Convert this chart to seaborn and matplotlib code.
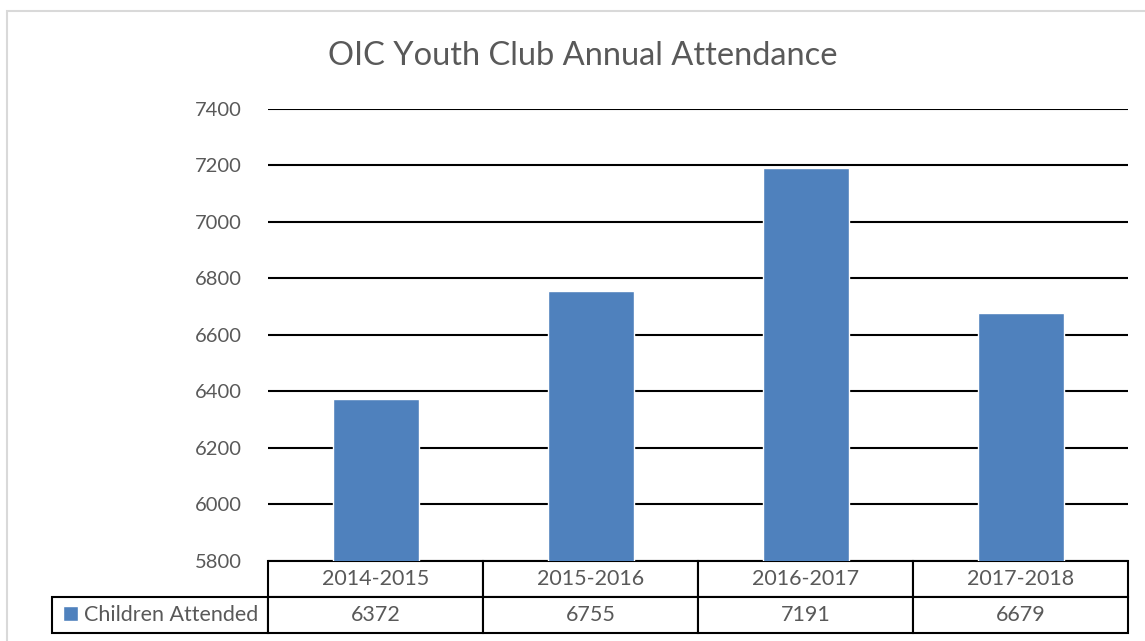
# OIC Youth Club annual attendance - excel style bar chart with data table
import pandas as pd
import matplotlib.pyplot as plt
import matplotlib.patches as mpatches
from matplotlib.table import Table
import seaborn as sns

years = ['2014-2015', '2015-2016', '2016-2017', '2017-2018']
attended = [6372, 6755, 7191, 6679]
series_name = 'Children Attended'
yticks = [5800, 6000, 6200, 6400, 6600, 6800, 7000, 7200, 7400]

df = pd.DataFrame({'Year': years, series_name: attended})

sns.set_theme(style='white')
plt.rcParams['font.family'] = ['Lato', 'DejaVu Sans']
txt = '#595959'
blue = '#4F81BD'

fig = plt.figure(figsize=(11.45, 6.41), dpi=100)
ax = fig.add_axes([268/1145, 1 - 561/641, 860/1145, 452/641])

sns.barplot(data=df, x='Year', y=series_name, color=blue, width=0.4,
            saturation=1, ax=ax, label=series_name)

ax.set_ylim(5800, 7400)
ax.set_yticks(yticks)
ax.set_yticklabels([str(v) for v in yticks], color=txt, fontsize=14.5)
ax.yaxis.grid(True, color='black', linewidth=1.5)
ax.set_axisbelow(True)
ax.tick_params(axis='y', length=0, pad=19)
ax.set_xticks([])
ax.set_xlabel('')
ax.set_ylabel('')
ax.set_xlim(-0.5, len(years) - 0.5)
sns.despine(ax=ax, left=True, bottom=True, top=True, right=True)

# data table under the plot (bbox covers the value columns, label column hangs left)
rl = 0.25 * 216 / 215
tab = Table(ax, bbox=[0, -72/452, 1, 72/452])
tab.auto_set_font_size(False)
for i, y in enumerate(years):
    tab.add_cell(0, i, width=0.25, height=0.5, text=y, loc='center')
    tab.add_cell(1, i, width=0.25, height=0.5, text=str(attended[i]), loc='center')
tab.add_cell(0, -1, width=rl, height=0.5, text='', loc='left')
tab.add_cell(1, -1, width=rl, height=0.5, text='', loc='left')
tab[0, -1].visible_edges = ''
for (r, c), cell in tab.get_celld().items():
    cell.set_edgecolor('black')
    cell.set_linewidth(1.5)
    cell.get_text().set_color(txt)
    cell.get_text().set_fontsize(15.5)
ax.add_table(tab)

# legend key in the row label cell
leg = ax.legend(loc='center left', bbox_to_anchor=(-rl, -54/452), frameon=False,
                fontsize=15.5, handlelength=0.7, handleheight=0.7,
                handletextpad=0.3, borderaxespad=0.1, labelcolor=txt)

fig.suptitle('OIC Youth Club Annual Attendance', x=583/1145, y=1 - 56/641,
             va='center', fontsize=23.5, color=txt)

# chart area border
fig.patches.append(mpatches.Rectangle((7/1145, -0.1), 1.2, 1 - 11/641 + 0.1,
                                      transform=fig.transFigure, fill=False,
                                      edgecolor='#d9d9d9', linewidth=1.5))

fig.savefig('out.png', dpi=100)
